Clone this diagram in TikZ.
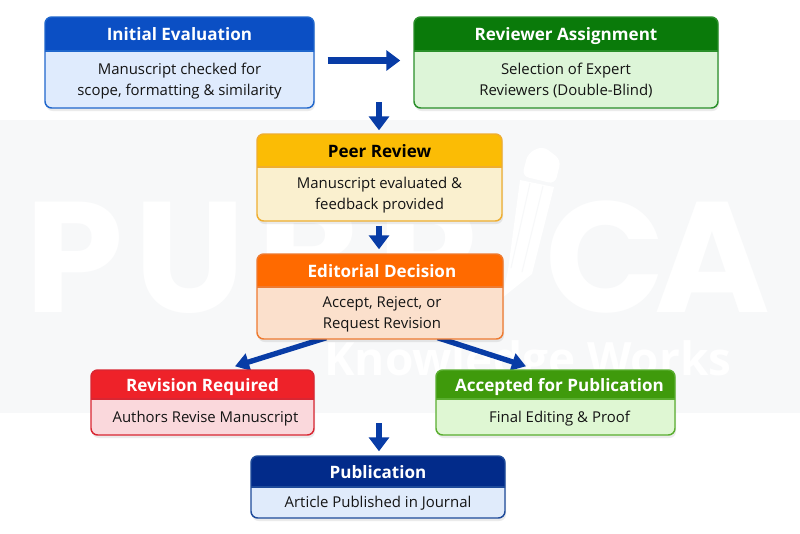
\documentclass[tikz,border=0pt]{standalone}
\usepackage{fontspec}
\setmainfont{Open Sans}
\newfontfamily\wmfont{Poppins}
\usetikzlibrary{arrows.meta,calc}
\definecolor{bandc}{HTML}{F7F8F9}
\definecolor{arrowc}{HTML}{083CA6}
\definecolor{inkc}{HTML}{141414}
\definecolor{headinit}{HTML}{0B4FC4}\definecolor{bodyinit}{HTML}{DFEBFD}\definecolor{edgeinit}{HTML}{1F66CC}
\definecolor{headrev}{HTML}{0A7A0A}\definecolor{bodyrev}{HTML}{DDF5D8}\definecolor{edgerev}{HTML}{2A8F2A}
\definecolor{headpeer}{HTML}{FBBC05}\definecolor{bodypeer}{HTML}{FAF0CF}\definecolor{edgepeer}{HTML}{EFAE30}
\definecolor{headedit}{HTML}{FF6A00}\definecolor{bodyedit}{HTML}{FBE0CC}\definecolor{edgeedit}{HTML}{EE7A30}
\definecolor{headneed}{HTML}{EE2229}\definecolor{bodyneed}{HTML}{FAD8DC}\definecolor{edgeneed}{HTML}{D92632}
\definecolor{headacc}{HTML}{3F9A0C}\definecolor{bodyacc}{HTML}{DFF7D3}\definecolor{edgeacc}{HTML}{5AAE30}
\definecolor{headpub}{HTML}{022B8A}\definecolor{bodypub}{HTML}{E0EBFB}\definecolor{edgepub}{HTML}{1E4A9A}
\pgfdeclarelayer{wm}\pgfdeclarelayer{links}
\pgfsetlayers{wm,links,main}
\tikzset{
  x=0.75pt,y=-0.75pt,
  flow/.style={draw=arrowc,line width=5pt,-{Triangle[length=10.5pt,width=15pt]}},
  slant/.style={draw=arrowc,line width=4pt,-{Triangle[length=10.5pt,width=13pt]}},
  titletext/.style={inner sep=0pt,font=\fontsize{12.8}{15}\selectfont\bfseries},
  bodytext/.style={inner sep=0pt,align=center,text=inkc,font=\fontsize{11.2}{15.75}\selectfont},
  wmletter/.style={anchor=base west,inner sep=0pt,text=white,font=\wmfont\fontsize{118}{118}\selectfont\bfseries},
}
\newcommand{\tdx}{0}\newcommand{\bdx}{0}\newcommand{\titlecol}{white}
% #1 name, #2 x1, #3 y1, #4 x2, #5 ymid, #6 y2, #7 theme, #8 title, #9 body
\newcommand{\flowbox}[9]{%
  \fill[black,opacity=0.08,rounded corners=5pt] ({#2+1},{#3+3}) rectangle ({#4+1},{#6+3});
  \fill[body#7,rounded corners=5pt] (#2,#3) rectangle (#4,#6);
  \begin{scope}
    \clip (#2,#3) rectangle (#4,#5);
    \fill[head#7,rounded corners=5pt] (#2,#3) rectangle (#4,#6);
  \end{scope}
  \draw[edge#7,line width=0.9pt] (#2,#5) -- (#4,#5);
  \node[draw=edge#7,line width=1.1pt,rounded corners=5pt,inner sep=0pt,
        minimum width={(#4-#2)*0.75pt},minimum height={(#6-#3)*0.75pt}]
        (#1) at ({(#2+#4)/2},{(#3+#6)/2}) {};
  \node[titletext,text=\titlecol] (#1-title) at ({(#2+#4)/2+\tdx},{(#3+#5)/2+2.5}) {\strut #8\strut};
  \node[bodytext] (#1-body) at ({(#2+#4)/2+\bdx},{(#5+#6)/2+1.2}) {\strut #9\strut};
}
\begin{document}
\begin{tikzpicture}
\useasboundingbox (0,0) rectangle (800,533);
\begin{pgfonlayer}{wm}
\fill[white] (0,0) rectangle (800,533);
\fill[bandc] (0,120) rectangle (800,413);
\node[wmletter] (wmp) at (25,312) {P};
\node[wmletter] (wmu) at (134,312) {U};
\node[wmletter] (wmb) at (257,312) {B};
\node[wmletter] (wmr) at (377,312) {R};
\node[wmletter] (wmc) at (545,312) {C};
\node[wmletter] (wma) at (654,312) {A};
\node[anchor=base west,inner sep=0pt,text=white,font=\fontsize{34.5}{34.5}\selectfont\bfseries] (wmsub) at (324,375) {Knowledge Works};
\fill[white,rounded corners=5pt] (522,176) -- (528,153) -- (543,146) -- (561,160) -- (555,184) -- cycle;
\fill[white] (520,180) -- (554,187) -- (532,274) -- (502,298) -- (508,270) -- cycle;
\draw[bandc,line width=0.8pt] (530,183) -- (511,268) (543,186) -- (522,272);
\end{pgfonlayer}

\flowbox{init}{45}{17}{314}{51}{108}{init}{Initial Evaluation}{Manuscript checked for\\scope, formatting \& similarity}
\flowbox{assign}{414}{17}{718}{51}{108}{rev}{Reviewer Assignment}{Selection of Expert\\Reviewers (Double-Blind)}
\renewcommand{\titlecol}{black}
\flowbox{peer}{257}{134}{502}{167}{221}{peer}{Peer Review}{Manuscript evaluated \&\\feedback provided}
\renewcommand{\titlecol}{white}
\renewcommand{\tdx}{2}\renewcommand{\bdx}{2}
\flowbox{edit}{257}{254}{503}{287}{339}{edit}{Editorial Decision}{Accept, Reject, or\\Request Revision}
\renewcommand{\tdx}{0}\renewcommand{\bdx}{3}
\flowbox{need}{91}{370}{314}{399}{435}{need}{Revision Required}{Authors Revise Manuscript}
\renewcommand{\tdx}{4}\renewcommand{\bdx}{4}
\flowbox{acc}{436}{370}{675}{399}{435}{acc}{Accepted for Publication}{Final Editing \& Proof}
\renewcommand{\tdx}{0}\renewcommand{\bdx}{0}
\flowbox{pub}{251}{456}{505}{487}{518}{pub}{Publication}{Article Published in Journal}

\coordinate (below init) at (379,102);
\coordinate (below need) at (379,423);
\begin{pgfonlayer}{links}
\draw[flow,shorten <=9.75pt,shorten >=9.75pt] ($(init.east)+(0,-2)$) -- ($(assign.west)+(0,-2)$);
\draw[flow,shorten >=2.2pt] (below init) -- (below init|-peer.north);
\draw[flow,shorten <=3pt,shorten >=3pt] (peer.south-|379,0) -- (edit.north-|379,0);
\draw[slant] ($(edit.south west)+(70,-2)$) -- ($(need.north)+(32.5,-3)$);
\draw[slant] ($(edit.south east)+(-66,-2)$) -- ($(acc.north)+(-29.5,-3)$);
\draw[flow,shorten >=3pt] (below need) -- (below need|-pub.north);
\end{pgfonlayer}
\end{tikzpicture}
\end{document}
